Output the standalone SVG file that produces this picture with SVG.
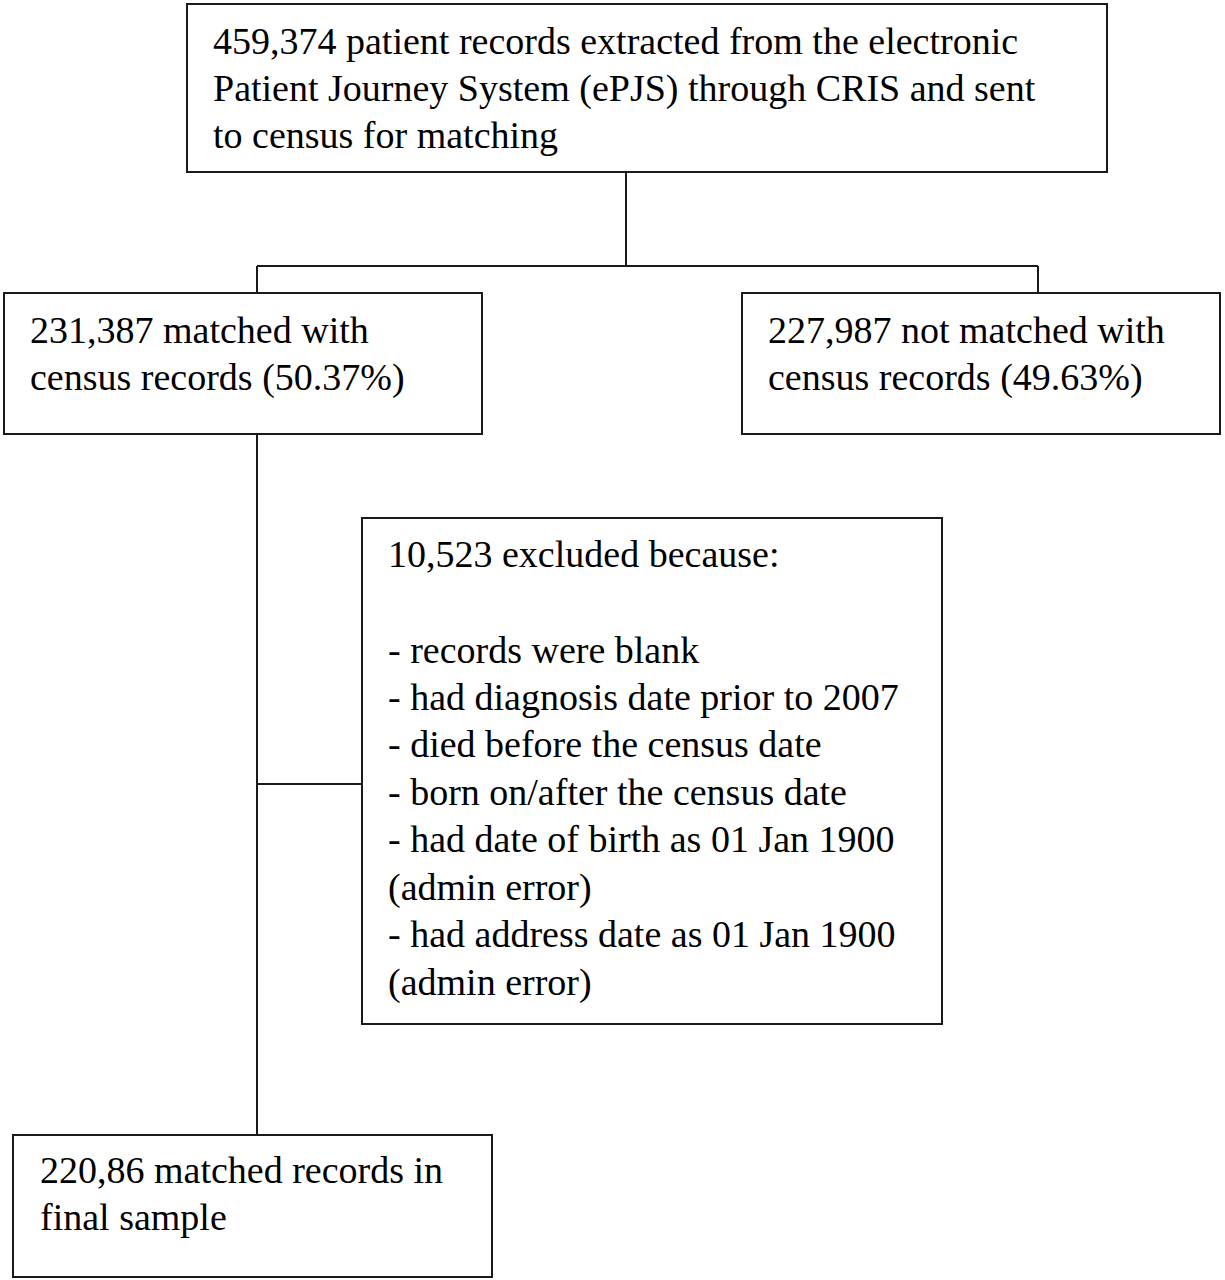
<svg xmlns="http://www.w3.org/2000/svg" width="1225" height="1280" viewBox="0 0 1225 1280">
<style>
.box{fill:#fff;stroke:#1a1a1a;stroke-width:2}
.ln{fill:none;stroke:#1a1a1a;stroke-width:2}
text{font-family:"Liberation Serif","Times New Roman",serif;font-size:38px;fill:#000}
</style>
<rect width="1225" height="1280" fill="#fff"/>
<g id="connectors">
<line class="ln" x1="626" y1="172" x2="626" y2="266"/>
<line class="ln" x1="257" y1="266" x2="1038" y2="266"/>
<line class="ln" x1="257" y1="266" x2="257" y2="292"/>
<line class="ln" x1="1038" y1="266" x2="1038" y2="292"/>
<line class="ln" x1="257" y1="434" x2="257" y2="1135"/>
<line class="ln" x1="257" y1="784" x2="362" y2="784"/>
</g>
<g id="node-source">
<rect class="box" x="187" y="4" width="920" height="168"/>
<text x="213" y="54">459,374 patient records extracted from the electronic</text>
<text x="213" y="101">Patient Journey System (ePJS) through CRIS and sent</text>
<text x="213" y="148">to census for matching</text>
</g>
<g id="node-matched">
<rect class="box" x="4" y="293" width="478" height="141"/>
<text x="30" y="343">231,387 matched with</text>
<text x="30" y="390">census records (50.37%)</text>
</g>
<g id="node-unmatched">
<rect class="box" x="742" y="293" width="478" height="141"/>
<text x="768" y="343">227,987 not matched with</text>
<text x="768" y="390">census records (49.63%)</text>
</g>
<g id="node-excluded">
<rect class="box" x="362" y="518" width="580" height="506"/>
<text x="388" y="567">10,523 excluded because:</text>
<text x="388" y="663">- records were blank</text>
<text x="388" y="710">- had diagnosis date prior to 2007</text>
<text x="388" y="757">- died before the census date</text>
<text x="388" y="805">- born on/after the census date</text>
<text x="388" y="852">- had date of birth as 01 Jan 1900</text>
<text x="388" y="900">(admin error)</text>
<text x="388" y="947">- had address date as 01 Jan 1900</text>
<text x="388" y="995">(admin error)</text>
</g>
<g id="node-final">
<rect class="box" x="13" y="1135" width="479" height="142"/>
<text x="40" y="1183">220,86 matched records in</text>
<text x="40" y="1230">final sample</text>
</g>
</svg>
